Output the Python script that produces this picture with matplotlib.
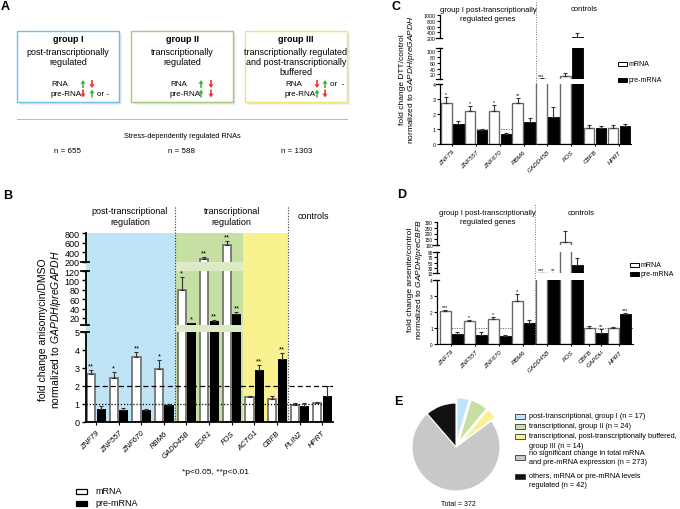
import numpy as np
import matplotlib.pyplot as plt
from matplotlib.patches import Rectangle, FancyArrow

plt.rcParams["font.family"] = ["Liberation Sans", "DejaVu Sans"]
plt.rcParams["mathtext.fontset"] = "custom"
plt.rcParams["mathtext.rm"] = "Liberation Sans"
plt.rcParams["mathtext.it"] = "Liberation Sans:italic"

W, H = 680, 510
BLUE = "#bfe4f6"
GREEN = "#c6dfa3"
LIGHTGREEN = "#dcebc6"
YELLOW = "#f9f08e"
GRAY = "#c8c8c8"
EDGE = "#6a6a6a"

# ---- panel B: anisomycin ----
genes_b = ["ZNF79", "ZNF557", "ZNF670", "RBM6", "GADD45B", "EGR1", "FOS", "ACTG1", "CBFB", "PLIN2", "HPRT"]
mrna_b = [2.65, 2.43, 3.6, 2.95, 80, 270, 560, 1.38, 1.3, 0.95, 1.05]
mrna_b_err = [0.25, 0.35, 0.3, 0.5, 27, 25, 70, 0.04, 0.12, 0.12, 0.08]
pre_b = [0.72, 0.65, 0.68, 0.97, 9, 14, 28, 2.88, 3.5, 0.9, 1.42]
pre_b_err = [0.15, 0.12, 0.03, 0.03, 0.6, 1.2, 4, 0.28, 0.33, 0.18, 0.58]
sig_mrna_b = ["**", "*", "**", "*", "*", "**", "**", "", "", "", ""]
sig_pre_b = ["", "", "", "", "*", "**", "**", "**", "**", "", ""]
ticks_b = [0, 1, 2, 3, 4, 5, 20, 40, 60, 80, 100, 120, 200, 400, 600, 800]

# ---- panel C: DTT ----
genes_c = ["ZNF79", "ZNF557", "ZNF670", "RBM6", "GADD45B", "FOS", "CBFB", "HPRT"]
mrna_c = [2.75, 2.18, 2.22, 2.75, 5.8, 15, 1.08, 1.05]
mrna_c_err = [0.4, 0.35, 0.38, 0.33, 0.3, 10, 0.18, 0.2]
pre_c = [1.33, 0.93, 0.67, 1.5, 1.83, 250, 1.05, 1.2]
pre_c_err = [0.22, 0.07, 0.06, 0.25, 0.65, 120, 0.13, 0.13]
sig_mrna_c = ["*", "*", "*", "**", "***", "", "", ""]
sig_pre_c = ["", "", "", "", "", "", "", ""]
ticks_c = [0, 1, 2, 3, 4, 20, 40, 60, 80, 100, 200, 400, 600, 800, 1000]

# ---- panel D: arsenite ----
genes_d = ["ZNF79", "ZNF557", "ZNF670", "RBM6", "GADD45B", "FOS", "CBFB", "GAPDH", "HPRT"]
mrna_d = [2.05, 1.42, 1.55, 2.7, 10.5, 127, 1.0, None, 1.02]
mrna_d_err = [0.08, 0.1, 0.15, 0.45, 0.3, 95, 0.1, None, 0.02]
pre_d = [0.62, 0.57, 0.5, 1.3, 10, 40, None, 0.68, 1.9]
pre_d_err = [0.12, 0.18, 0.05, 0.17, 0.3, 27, None, 0.27, 0.05]
sig_mrna_d = ["***", "*", "*", "*", "***", "", "", "", ""]
sig_pre_d = ["", "", "", "", "**", "", "", "**", "***"]
ticks_d = [0, 1, 2, 3, 4, 10, 30, 50, 70, 90, 100, 150, 200, 250, 300]

# ---- panel E: pie ----
pie_counts = [17, 24, 14, 273, 42]
pie_colors = [BLUE, GREEN, YELLOW, GRAY, "#111111"]
pie_labels = [
    ["post-transcriptional, group I (n = 17)"],
    ["transcriptional, group II (n = 24)"],
    ["transcriptional, post-transcriptionally buffered,", "group III (n = 14)"],
    ["no significant change in total mRNA", "and pre-mRNA expression (n = 273)"],
    ["others, mRNA or pre-mRNA levels", "regulated (n = 42)"],
]
pie_total = "Total = 372"

group_n = ["n = 655", "n = 588", "n = 1303"]


def px_axes(fig, x0, y0, x1, y1):
    return fig.add_axes([x0 / W, 1 - y1 / H, (x1 - x0) / W, (y1 - y0) / H])


def broken_scale(ax, V, U, segs, ticks, lw=1.0):
    V = np.asarray(V, float)
    U = np.asarray(U, float)
    ax.set_yscale("function", functions=(lambda v: np.interp(v, V, U), lambda u: np.interp(u, U, V)))
    ax.set_ylim(V[0], V[-1])
    ax.set_yticks(ticks)
    ax.spines["left"].set_visible(False)
    tr = ax.get_yaxis_transform()
    for i, (lo, hi) in enumerate(segs):
        ax.plot([0, 0], [lo, hi], transform=tr, color="black", lw=lw, clip_on=False, zorder=5)
        if i > 0:
            ax.plot([-0.02, 0.012], [lo, lo], transform=tr, color="black", lw=lw, clip_on=False, zorder=5)
        if i < len(segs) - 1:
            ax.plot([-0.02, 0.012], [hi, hi], transform=tr, color="black", lw=lw, clip_on=False, zorder=5)


def draw_bars(ax, xw, m, me, xb, p, pe, width, sm, sp, star_size, lw=1.2):
    ax.bar(xw, m, width, color="white", edgecolor=EDGE, linewidth=lw, zorder=2)
    ax.bar(xb, p, width, color="black", edgecolor="black", linewidth=lw * 0.6, zorder=2)
    ax.errorbar(xw, m, yerr=[np.zeros(len(m)), me], fmt="none", ecolor="#333333",
                elinewidth=0.8, capsize=1.5, capthick=0.8, zorder=2)
    ax.errorbar(xb, p, yerr=[np.zeros(len(p)), pe], fmt="none", ecolor="#333333",
                elinewidth=0.8, capsize=1.5, capthick=0.8, zorder=2)
    for x, v, e, s in list(zip(xw, m, me, sm)) + list(zip(xb, p, pe, sp)):
        if s:
            ax.annotate(s, (x, v + e), xytext=(0, 0.5), textcoords="offset points",
                        ha="center", va="bottom", fontsize=star_size, zorder=6)


def slot_positions(m, p, me, pe, sm, sp):
    out = {"xw": [], "m": [], "me": [], "sm": [], "xb": [], "p": [], "pe": [], "sp": [], "xt": []}
    s = 0
    for i in range(len(m)):
        start = s
        if m[i] is not None:
            out["xw"].append(s); out["m"].append(m[i]); out["me"].append(me[i]); out["sm"].append(sm[i])
            s += 1
        if p[i] is not None:
            out["xb"].append(s); out["p"].append(p[i]); out["pe"].append(pe[i]); out["sp"].append(sp[i])
            s += 1
        out["xt"].append((start + s - 1) / 2)
    return out


def gene_labels(ax, pos, names, size):
    ax.set_xticks(pos)
    ax.set_xticklabels(names, rotation=45, ha="right", va="top", rotation_mode="anchor",
                       fontstyle="italic", fontsize=size)


fig = plt.figure(figsize=(6.8, 5.1), dpi=100)

# ================= B =================
axb = px_axes(fig, 86, 234, 333, 423)
xl, xr = -0.44, 10.48
axb.set_xlim(xl, xr)
broken_scale(axb, [0, 5, 5.001, 120, 200, 800], [0, 90, 97, 151, 160, 189],
             [(0, 5), (5.001, 120), (200, 800)], ticks_b, lw=1.3)
axb.axvspan(xl, 3.5, color=BLUE, lw=0, zorder=0)
axb.axvspan(3.5, 6.5, color=GREEN, lw=0, zorder=0)
axb.axvspan(6.5, 8.5, color=YELLOW, lw=0, zorder=0)
xg = np.arange(len(genes_b))
draw_bars(axb, xg - 0.21, mrna_b, mrna_b_err, xg + 0.21, pre_b, pre_b_err, 0.36,
          sig_mrna_b, sig_pre_b, 5.5)
for lo, hi in [(5, 5.001), (120, 200)]:
    axb.fill_between([3.5, 6.5], lo, hi, color=LIGHTGREEN, lw=0, zorder=2.5)
axb.axhline(2, color="black", ls=(0, (4, 2.5)), lw=0.9, zorder=3)
axb.axhline(1, color="black", ls=(0, (1, 1.5)), lw=0.9, zorder=3)
for xv in (3.5, 8.5):
    axb.plot([xv, xv], [0, 1.14], transform=axb.get_xaxis_transform(), color="#333333",
             ls=(0, (1, 1.5)), lw=0.8, clip_on=False, zorder=3)
axb.text(1.5, 1.09, "post-transcriptional\nregulation", transform=axb.get_xaxis_transform(),
         ha="center", va="center", fontsize=6.5, linespacing=1.2)
axb.text(6.0, 1.09, "transcriptional\nregulation", transform=axb.get_xaxis_transform(),
         ha="center", va="center", fontsize=6.5, linespacing=1.2)
axb.text(9.6, 1.09, "controls", transform=axb.get_xaxis_transform(),
         ha="center", va="center", fontsize=6.5)
gene_labels(axb, xg, genes_b, 5.5)
axb.tick_params(axis="y", labelsize=6.5, length=3, width=1, pad=1.5)
axb.tick_params(axis="x", length=2, width=0.8, pad=3)
for s in ("top", "right"):
    axb.spines[s].set_visible(False)
axb.spines["bottom"].set_linewidth(1.3)

# ================= C =================
axc = px_axes(fig, 440, 16, 631, 145)
c = slot_positions(mrna_c, pre_c, mrna_c_err, pre_c_err, sig_mrna_c, sig_pre_c)
axc.set_xlim(-0.53, 15.52)
broken_scale(axc, [0, 4, 4.35, 112, 200, 1000], [0, 60, 65, 96, 106, 129],
             [(0, 4), (4.35, 112), (200, 1000)], ticks_c, lw=0.9)
axc.axhline(1, color="#555555", ls=(0, (1, 1.5)), lw=0.7, zorder=1)
draw_bars(axc, c["xw"], c["m"], c["me"], c["xb"], c["p"], c["pe"], 0.89,
          c["sm"], c["sp"], 4, lw=1.0)
for lo, hi in [(4, 4.35), (112, 200)]:
    axc.axhspan(lo, hi, color="white", lw=0, zorder=2.5)
axc.plot([7.5, 7.5], [0, 1.1], transform=axc.get_xaxis_transform(), color="#777777",
         ls=(0, (1, 1.5)), lw=0.7, clip_on=False, zorder=3)
axc.text(3.5, 1.01, "group I post-transcriptionally\nregulated genes", transform=axc.get_xaxis_transform(),
         ha="center", va="center", fontsize=5.5, linespacing=1.4)
axc.text(11.6, 1.047, "controls", transform=axc.get_xaxis_transform(),
         ha="center", va="center", fontsize=5.5)
gene_labels(axc, c["xt"], genes_c, 4.5)
axc.tick_params(axis="y", labelsize=3.8, length=2, width=0.8, pad=1)
axc.tick_params(axis="x", length=1.5, width=0.8, pad=2)
for s in ("top", "right"):
    axc.spines[s].set_visible(False)

# ================= D =================
axd = px_axes(fig, 437, 223, 633, 345)
d = slot_positions(mrna_d, pre_d, mrna_d_err, pre_d_err, sig_mrna_d, sig_pre_d)
axd.set_xlim(-0.7, 15.63)
broken_scale(axd, [0, 4, 10, 90, 100, 300], [0, 64, 71, 92, 99, 122],
             [(0, 4), (10, 90), (100, 300)], ticks_d, lw=0.9)
axd.axhline(1, color="#555555", ls=(0, (1, 1.5)), lw=0.7, zorder=1)
draw_bars(axd, d["xw"], d["m"], d["me"], d["xb"], d["p"], d["pe"], 0.89,
          d["sm"], d["sp"], 4, lw=1.0)
for lo, hi in [(4, 10), (90, 100)]:
    axd.axhspan(lo, hi, color="white", lw=0, zorder=2.5)
axd.plot([7.5, 7.5], [0, 1.15], transform=axd.get_xaxis_transform(), color="#777777",
         ls=(0, (1, 1.5)), lw=0.7, clip_on=False, zorder=3)
axd.text(3.5, 1.045, "group I post-transcriptionally\nregulated genes", transform=axd.get_xaxis_transform(),
         ha="center", va="center", fontsize=5.5, linespacing=1.4)
axd.text(11.3, 1.08, "controls", transform=axd.get_xaxis_transform(),
         ha="center", va="center", fontsize=5.5)
gene_labels(axd, d["xt"], genes_d, 4.5)
axd.tick_params(axis="y", labelsize=3.4, length=2, width=0.8, pad=1)
axd.tick_params(axis="x", length=1.5, width=0.8, pad=2)
for s in ("top", "right"):
    axd.spines[s].set_visible(False)

# ================= E =================
axe = px_axes(fig, 401, 393, 511, 503)
axe.pie(pie_counts, colors=pie_colors, startangle=90, counterclock=False,
        explode=[0.12, 0.12, 0.12, 0, 0], wedgeprops=dict(edgecolor="white", linewidth=0.8))
axe.set_xlim(-1.25, 1.25)
axe.set_ylim(-1.25, 1.25)
axe.set_aspect("equal")

# ================= overlay: panel A, labels, legends =================
ov = fig.add_axes([0, 0, 1, 1], zorder=5)
ov.set_xlim(0, W)
ov.set_ylim(H, 0)
ov.axis("off")

for lab, x, y in [("A", 1, 7), ("B", 3, 196), ("C", 392, 7), ("D", 397, 195), ("E", 394, 402)]:
    ov.text(x, y, lab, fontsize=9, fontweight="bold", va="center", ha="left")

box_x = [17, 131, 245]
box_edges = ["#6dbfe6", "#a4c97a", "#eee47c"]
titles = ["group I", "group II", "group III"]
subtitles = ["post-transcriptionally\nregulated", "transcriptionally\nregulated",
             "transcriptionally regulated\nand post-transcriptionally\nbuffered"]
for x0, ec, t, st in zip(box_x, box_edges, titles, subtitles):
    for k, a in [(3, 0.10), (2, 0.12), (1, 0.15)]:
        ov.add_patch(Rectangle((x0 + k, 32 + k), 102, 71, facecolor="#888888", alpha=a, lw=0))
    ov.add_patch(Rectangle((x0, 32), 102, 71, facecolor="white", edgecolor=ec, lw=1.0))
    ov.text(x0 + 51, 40, t, ha="center", va="center", fontsize=6.5, fontweight="bold")
    ov.text(x0 + 51, 48, st, ha="center", va="top", fontsize=6.5, linespacing=1.15)

UP, DOWN = "#3fae49", "#e5332a"


def arrow(x, yc, up):
    if up:
        ov.add_patch(FancyArrow(x, yc + 4, 0, -8, width=1.6, head_width=5, head_length=3.8,
                                length_includes_head=True, color=UP, lw=0))
    else:
        ov.add_patch(FancyArrow(x, yc - 4, 0, 8, width=1.6, head_width=5, head_length=3.8,
                                length_includes_head=True, color=DOWN, lw=0))


rows = [
    (51, [(83, True), (92, False)], "", [(83, False), (92, True)], "or -"),
    (170, [(201, True), (211, False)], "", [(201, True), (211, False)], ""),
    (285, [(317, False), (325, True)], "or  -", [(317, True), (325, False)], ""),
]
for xt, rna, rna_txt, pre, pre_txt in rows:
    ov.text(xt, 85, "RNA", fontsize=5.8, va="center")
    ov.text(xt, 94.5, "pre-RNA", fontsize=5.8, va="center")
    for xa, u in rna:
        arrow(xa, 85, u)
    for xa, u in pre:
        arrow(xa, 94.5, u)
    if rna_txt:
        ov.text(rna[-1][0] + 5, 85, rna_txt, fontsize=5.8, va="center")
    if pre_txt:
        ov.text(pre[-1][0] + 5, 94.5, pre_txt, fontsize=5.8, va="center")

ov.plot([17, 347], [120, 120], color="#bbbbbb", lw=0.8)
ov.text(182, 137, "Stress-dependently regulated RNAs", ha="center", va="center", fontsize=5.3)
for x, t in zip([68, 182, 297], group_n):
    ov.text(x, 152, t, ha="center", va="center", fontsize=5.8)

# B y-label / footnote / legend
ov.text(51, 330, "fold change anisomycin/DMSO\nnormalized to $\\mathit{GAPDH/preGAPDH}$",
        rotation=90, ha="center", va="center", fontsize=7.5, linespacing=1.1)
ov.text(215, 473, "*p<0.05, **p<0.01", ha="center", va="center", fontsize=6)
for y, fc, t in [(492, "white", "mRNA"), (504, "black", "pre-mRNA")]:
    ov.add_patch(Rectangle((76, y - 2.5), 11, 5, facecolor=fc, edgecolor="black", lw=0.9))
    ov.text(95, y, t, va="center", fontsize=6.5)

# C / D y-labels and legends
ov.text(408, 80, "fold change DTT/control\nnormalized to $\\mathit{GAPDH/preGAPDH}$",
        rotation=90, ha="center", va="center", fontsize=6, linespacing=1.1)
ov.text(416, 280, "fold change arsenite/control\nnormalized to $\\mathit{GAPDH/preCBFB}$",
        rotation=90, ha="center", va="center", fontsize=6, linespacing=1.1)
for x, ys in [(618, (65, 81)), (630, (266, 275))]:
    for y, fc, t in zip(ys, ["white", "black"], ["mRNA", "pre-mRNA"]):
        ov.add_patch(Rectangle((x, y - 2), 9, 4, facecolor=fc, edgecolor="black", lw=0.7))
        ov.text(x + 11, y, t, va="center", fontsize=5)

# E legend
legend_rows = [(417, [417]), (427, [427]), (437, [437, 447]), (458, [454, 462.5]), (477, [477, 486])]
for (yb, ylines), col, lines in zip(legend_rows, pie_colors, pie_labels):
    ov.add_patch(Rectangle((515, yb - 2.5), 10, 5, facecolor=col, edgecolor="#333333", lw=0.6))
    for yl, t in zip(ylines, lines):
        ov.text(529, yl, t, va="center", fontsize=5.3)
ov.text(458, 505, pie_total, ha="center", va="center", fontsize=5)

fig.savefig("out.png", dpi=100)
